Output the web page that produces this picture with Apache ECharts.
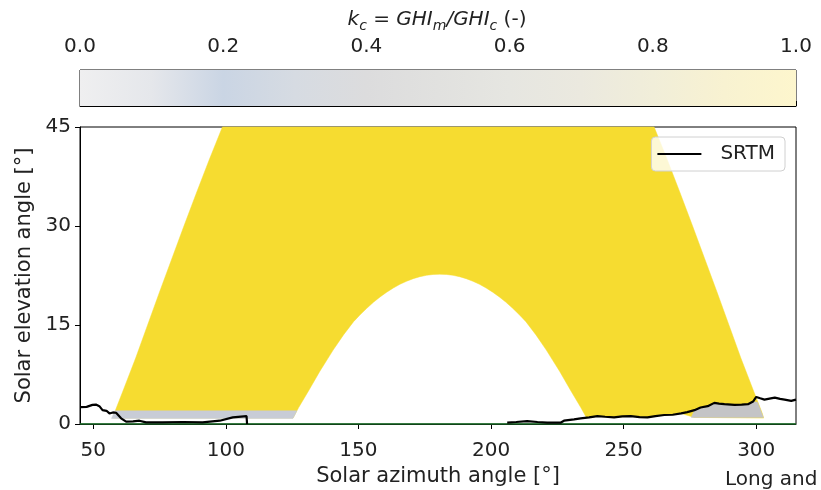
<!DOCTYPE html>
<html>
<head>
<meta charset="utf-8">
<script src="https://cdn.jsdelivr.net/npm/echarts@6/dist/echarts.min.js"></script>
<style>
  html, body { margin: 0; padding: 0; background: #ffffff; }
  #chart { width: 821px; height: 490px; }
</style>
</head>
<body>
<div id="chart"></div>
<script>
// Axis ticks
const azTicks = [50, 100, 150, 200, 250, 300];
const elTicks = [0, 15, 30, 45];
const kcTicks = [0.0, 0.2, 0.4, 0.6, 0.8, 1.0];

// Colour scale of the clear-sky index k_c
const kcStops = [0.0, 0.1, 0.2, 0.3, 0.4, 0.5, 0.6, 0.7, 0.8, 0.9, 1.0];
const kcColors = ['#efeff0', '#e5e7eb', '#cad5e4', '#d6dbe2', '#dcdcdd', '#e1e1df',
                  '#e6e6e1', '#ebe9df', '#f1eed9', '#f8f2d1', '#fdf6cd'];

// Outline of the observed sun positions (azimuth, elevation), k_c close to 1.
// Morning edge, top, evening edge, horizon, then the winter-solstice arch.
const bandAz = [57.4, 58.0, 61.2, 66.0, 70.5, 75.0, 79.6, 84.2, 88.9, 93.7, 98.7,
                261.5, 266.5, 271.3, 276.0, 280.6, 285.2, 289.7, 294.2, 299.0, 302.2, 302.8,
                276.7, 271.7, 265.3, 259.0, 252.7, 246.4, 240.1, 236.0,
                233.85, 230.15, 225.85, 220.85, 216.95, 213.15, 210.65, 208.15, 205.65, 203.15,
                200.65, 198.15, 195.65, 193.15, 190.65, 188.15, 185.65, 183.15, 180.65,
                178.15, 175.65, 173.15, 170.65, 168.15, 165.65, 163.15, 160.65, 158.15, 155.65,
                153.15, 150.65, 148.15, 144.35, 140.45, 135.45, 131.15, 127.45, 125.35];
const bandEl = [0.9, 1.7, 5.0, 10.0, 15.0, 20.0, 25.0, 30.0, 35.0, 40.0, 45.0,
                45.0, 40.0, 35.0, 30.0, 25.0, 20.0, 15.0, 10.0, 5.0, 1.7, 0.9,
                1.0, 1.6, 1.36, 1.0, 1.2, 1.0, 1.2, 0.95,
                2.5, 5.0, 8.0, 11.2, 13.5, 15.5, 16.57, 17.54, 18.44, 19.25,
                19.97, 20.61, 21.17, 21.63, 22.02, 22.32, 22.53, 22.66, 22.7,
                22.66, 22.53, 22.32, 22.02, 21.63, 21.17, 20.61, 19.97, 19.25, 18.44,
                17.54, 16.57, 15.5, 13.5, 11.2, 8.0, 5.0, 2.5, 0.9];

// Low k_c close to the horizon (grey)
const shadeLeftAz = [56.9, 125.3, 126.8, 58.2];
const shadeLeftEl = [0.85, 0.85, 2.0, 2.0];
const shadeRightAz = [275.5, 276.7, 281.7, 284.2, 288.0, 291.8, 296.9, 298.8, 300.5, 302.7];
const shadeRightEl = [1.0, 2.1, 2.7, 3.2, 3.0, 2.9, 3.0, 3.4, 3.3, 1.0];

// SRTM horizon profile
const srtmAz = [45.0, 47.5, 49.7, 51.0, 52.3, 53.5, 55.0, 56.1, 57.4, 58.6, 60.5, 62.4, 65.0, 67.4, 69.9,
                76.1, 84.0, 91.2, 97.7, 102.6, 107.8, 108.0, null,
                206.1, 209.5, 213.6, 217.5, 221.2, 226.2, 227.5, 231.3, 233.8, 237.0, 240.1, 243.0, 246.4,
                249.5, 252.7, 256.0, 259.0, 262.0, 265.3, 268.5, 271.7, 274.0, 276.7, 279.0, 281.7, 284.2,
                286.0, 288.0, 291.8, 294.5, 296.9, 298.8, 300.0, 301.5, 303.1, 305.0, 307.0, 309.0,
                310.7, 313.2, 315.0];
const srtmEl = [2.55, 2.6, 2.9, 2.95, 2.7, 2.1, 2.0, 1.6, 1.75, 1.7, 0.86, 0.35, 0.4, 0.5, 0.25,
                0.25, 0.3, 0.25, 0.5, 1.0, 1.2, 0.0, null,
                0.2, 0.3, 0.45, 0.3, 0.2, 0.2, 0.5, 0.7, 0.86, 1.0, 1.2, 1.1, 1.0,
                1.15, 1.2, 1.05, 1.0, 1.2, 1.36, 1.4, 1.6, 1.8, 2.1, 2.5, 2.7, 3.2,
                3.1, 3.0, 2.9, 2.95, 3.0, 3.4, 4.1, 3.9, 3.7, 3.85, 4.0, 3.8,
                3.7, 3.5, 3.7];

// Reference horizon at zero elevation
const zeroAz = [45, 315];
const zeroEl = [0, 0];

const FONT = 'DejaVu Sans';
const pairs = (xs, ys) => xs.map((x, i) => [x, ys[i]]);

function polygonSeries(xs, ys, fill, z) {
  const pts = pairs(xs, ys);
  return {
    type: 'custom',
    xAxisIndex: 1, yAxisIndex: 1,
    z: z,
    silent: true,
    data: pts,
    renderItem: function (params, api) {
      if (params.dataIndex !== 0) return null;
      return {
        type: 'polygon',
        shape: { points: pts.map(p => api.coord(p)) },
        style: { fill: fill, stroke: fill, lineWidth: 0.5 }
      };
    }
  };
}

const chart = echarts.init(document.getElementById('chart'), null, { renderer: 'canvas' });

const axisCommon = {
  axisLine: { show: true, lineStyle: { color: '#000', width: 1 } },
  axisTick: { show: true, inside: false, length: 5, lineStyle: { color: '#000', width: 1 } },
  axisLabel: { color: '#222', fontFamily: FONT, fontSize: 20 },
  splitLine: { show: false }
};

const option = {
  animation: false,
  backgroundColor: '#ffffff',
  title: {
    left: 432, top: 2, textAlign: 'center',
    text: '{i|k}{s|c}{n| = }{i|GHI}{s|m}{i|/GHI}{s|c}{n| (-)}',
    textStyle: {
      fontWeight: 'normal',
      rich: {
        i: { fontFamily: FONT, fontStyle: 'italic', fontWeight: 'normal', fontSize: 20, color: '#222', lineHeight: 26 },
        n: { fontFamily: FONT, fontWeight: 'normal', fontSize: 20, color: '#222', lineHeight: 26 },
        s: { fontFamily: FONT, fontStyle: 'italic', fontWeight: 'normal', fontSize: 14, color: '#222', lineHeight: 14, verticalAlign: 'bottom' }
      }
    }
  },
  grid: [
    { left: 80, right: 25, top: 70, height: 36, show: true, borderColor: '#000', borderWidth: 1,
      backgroundColor: 'transparent', outerBoundsMode: 'none' },
    { left: 80, right: 25, top: 127, height: 297, show: true, borderColor: '#000', borderWidth: 1,
      backgroundColor: 'transparent', outerBoundsMode: 'none' }
  ],
  xAxis: [
    Object.assign({}, axisCommon, {
      gridIndex: 0, type: 'value', position: 'top', min: 0, max: 1, interval: 0.2,
      axisLabel: Object.assign({}, axisCommon.axisLabel, {
        margin: 10, padding: [0, 0, 3, 0],
        formatter: v => v.toFixed(1),
        customValues: kcTicks
      }),
      axisTick: Object.assign({}, axisCommon.axisTick, { customValues: kcTicks })
    }),
    Object.assign({}, axisCommon, {
      gridIndex: 1, type: 'value', min: 45, max: 315,
      axisLabel: Object.assign({}, axisCommon.axisLabel, { margin: 10, padding: [7, 0, 0, 0], customValues: azTicks }),
      axisTick: Object.assign({}, axisCommon.axisTick, { customValues: azTicks }),
      name: 'Solar azimuth angle [°]', nameLocation: 'middle', nameGap: 34,
      nameTextStyle: { fontFamily: FONT, fontSize: 21, color: '#222' }
    })
  ],
  yAxis: [
    { gridIndex: 0, type: 'value', min: 0, max: 1, show: false },
    Object.assign({}, axisCommon, {
      gridIndex: 1, type: 'value', min: 0, max: 45, interval: 15,
      axisLabel: Object.assign({}, axisCommon.axisLabel, { margin: 9, customValues: elTicks }),
      axisTick: Object.assign({}, axisCommon.axisTick, { customValues: elTicks }),
      name: 'Solar elevation angle [°]', nameLocation: 'middle', nameGap: 42,
      nameTextStyle: { fontFamily: FONT, fontSize: 21, color: '#222' }
    })
  ],
  legend: {
    data: [{ name: 'SRTM', icon: 'rect' }],
    right: 36, top: 137,
    itemWidth: 44, itemHeight: 2,
    padding: [7, 10, 7, 6],
    backgroundColor: 'rgba(255,255,255,0.8)',
    borderColor: '#d0d0d0', borderWidth: 1, borderRadius: 4,
    textStyle: { fontFamily: FONT, fontSize: 20, color: '#222', padding: [0, 0, 0, 14] }
  },
  series: [
    // colour bar
    {
      type: 'custom', xAxisIndex: 0, yAxisIndex: 0, silent: true,
      data: [[0, 0], [1, 1]],
      renderItem: function (params, api) {
        if (params.dataIndex !== 0) return null;
        const p0 = api.coord([0, 1]);
        const p1 = api.coord([1, 0]);
        return {
          type: 'rect',
          shape: { x: p0[0], y: p0[1], width: p1[0] - p0[0], height: p1[1] - p0[1] },
          style: {
            fill: new echarts.graphic.LinearGradient(0, 0, 1, 0,
              kcStops.map((s, i) => ({ offset: s, color: kcColors[i] })))
          }
        };
      }
    },
    polygonSeries(bandAz, bandEl, '#f6dc30', 2),
    polygonSeries(shadeLeftAz, shadeLeftEl, '#c8ccd6', 3),
    polygonSeries(shadeRightAz, shadeRightEl, '#c4c4c6', 3),
    {
      name: 'zero', type: 'line', xAxisIndex: 1, yAxisIndex: 1, z: 5,
      data: pairs(zeroAz, zeroEl), showSymbol: false, symbol: 'none', silent: true,
      lineStyle: { color: '#1f7a2e', width: 1.6 }
    },
    {
      name: 'SRTM', type: 'line', xAxisIndex: 1, yAxisIndex: 1, z: 6,
      data: pairs(srtmAz, srtmEl), symbol: 'none', showSymbol: false, connectNulls: false,
      color: '#000',
      lineStyle: { color: '#000', width: 2.2 }
    }
  ],
  graphic: [
    {
      type: 'text', left: 725, top: 470,
      style: { text: 'Long and', font: '20px "DejaVu Sans"', fill: '#222' }
    }
  ]
};

chart.setOption(option);
</script>
</body>
</html>
